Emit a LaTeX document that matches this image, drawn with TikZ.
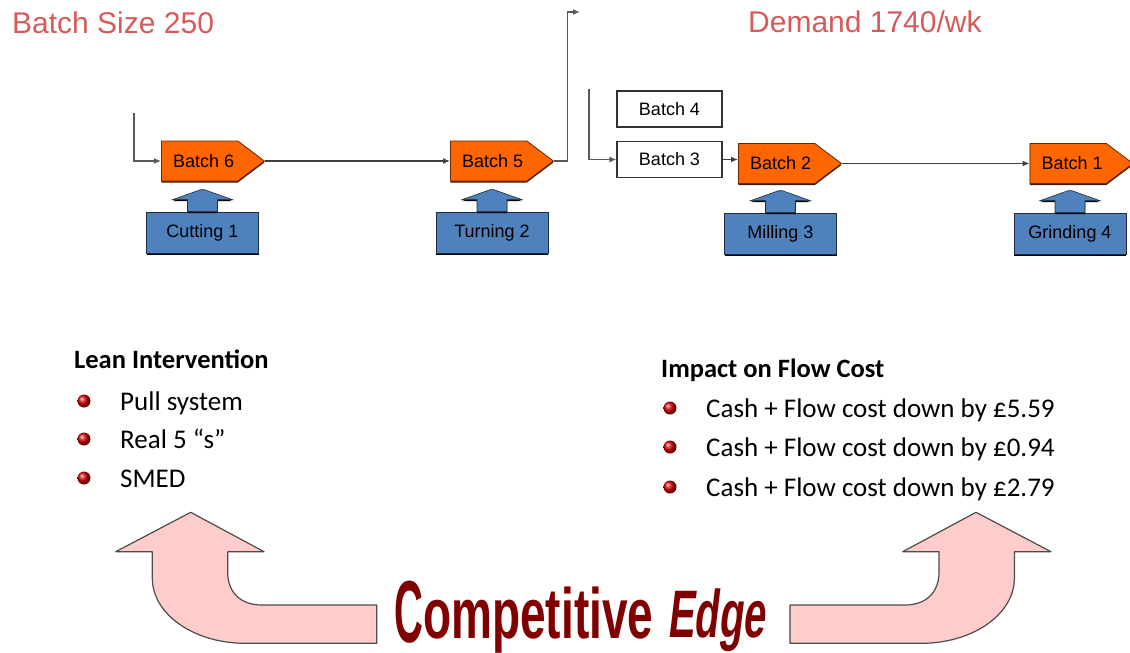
\documentclass[tikz,border=0pt]{standalone}
\usepackage{fontspec}
\setmainfont{Carlito}
\newfontfamily\arialfont{Liberation Sans}
\usetikzlibrary{arrows.meta,shapes.symbols,shadows}

\definecolor{titlered}{RGB}{214,90,90}
\definecolor{batchorange}{RGB}{255,102,0}
\definecolor{procblue}{RGB}{79,129,189}
\definecolor{edgepink}{RGB}{255,204,204}
\definecolor{edgemaroon}{RGB}{128,0,0}

\tikzset{
  batch/.style={signal, signal to=east, signal pointer angle=74,
    fill=batchorange, draw=black!60!batchorange, line width=0.8pt,
    minimum width=103pt, minimum height=40pt, inner sep=0pt, anchor=west,
    font=\arialfont\fontsize{18}{20}\selectfont,
    drop shadow={shadow xshift=0pt, shadow yshift=-1.5pt, fill=black!75!batchorange, opacity=1}},
  queue/.style={draw=black!80, fill=white, line width=1.2pt,
    minimum width=105pt, minimum height=36pt, inner sep=0pt,
    font=\arialfont\fontsize{18}{20}\selectfont},
  proc/.style={fill=procblue, draw=procblue!35!black, line width=0.6pt,
    minimum width=112pt, minimum height=41pt, inner sep=0pt,
    font=\arialfont\fontsize{18}{20}\selectfont,
    drop shadow={shadow xshift=0pt, shadow yshift=-1.5pt, fill=black, opacity=1}},
  procarrow/.style={fill=procblue, draw=procblue!35!black, line width=0.6pt,
    drop shadow={shadow xshift=0pt, shadow yshift=-1.5pt, fill=black, opacity=1}},
  feed/.style={draw=black!65, line width=1.8pt},
  flow/.style={draw=black!75, line width=1.2pt},
  title/.style={anchor=base west, inner sep=0pt, text=titlered,
    font=\arialfont\fontsize{30}{36}\selectfont},
  heading/.style={anchor=base west, inner sep=0pt,
    font=\bfseries\fontsize{26.5}{30}\selectfont},
  item/.style={anchor=base west, inner sep=0pt,
    font=\fontsize{27}{30}\selectfont},
  bullet/.style={circle, minimum size=13pt, inner sep=0pt,
    shading=ball, ball color=red!85!black},
  bendarrow/.style={fill=edgepink, draw=black!70, line width=1.2pt, line join=round},
  edgetext/.style={anchor=base west, inner sep=0pt, text=edgemaroon,
    font=\arialfont\bfseries\fontsize{40}{40}\selectfont}
}

\begin{document}
\begin{tikzpicture}[x=1pt, y=-1pt, >={Latex[length=7pt,width=6pt]}]
  \useasboundingbox (0,0) rectangle (1130,653);

  % Titles
  \node[title] (size) at (12,34) {Batch Size 250};
  \node[title] (demand) at (748,32) {Demand 1740/wk};

  % Batches
  \node[batch] (b6) at (161,161) {\hspace{8pt}Batch 6};
  \node[batch] (b5) at (450,161) {\hspace{8pt}Batch 5};
  \node[batch] (b2) at (738,163.5) {\hspace{8pt}Batch 2};
  \node[batch] (b1) at (1029.5,163.5) {\hspace{8pt}Batch 1};
  \node[queue] (b4) at (669.5,109) {Batch 4};
  \node[queue] (b3) at (669.5,159.5) {Batch 3};

  % Processes
  \node[proc] (cut) at (202.5,232.5) {Cutting 1};
  \node[proc] (turn) at (492,232.5) {Turning 2};
  \node[proc] (mill) at (780.5,233.5) {Milling 3};
  \node[proc] (grind) at (1070,233.5) {Grinding 4};
  \foreach \p in {cut,turn,mill,grind}
    \draw[procarrow] (\p.north) ++(-15,0) -- ++(0,-12) -- ++(-15,0) -- ++(28,-10)
      -- ++(4,0) -- ++(28,10) -- ++(-15,0) -- ++(0,12) -- cycle;

  % Flow
  \coordinate (in6) at (134,113);
  \coordinate (out5) at (580,12);
  \coordinate (in3) at (589,89);
  \draw[feed,->] (in6) |- (b6.west);
  \draw[flow,->] (b6.east) -- (b5.west);
  \draw[feed,->] (b5.east) -- ++(13.5,0) |- (out5);
  \draw[feed,->] (in3) |- (b3.west);
  \draw[flow,->] (b3.east) -- (b3.east -| b2.west);
  \draw[flow,->] (b2.east) -- (b1.west);

  % Lean intervention
  \node[heading] (lean) at (74,368) {Lean Intervention};
  \foreach \t/\y [count=\i] in {Pull system/401, Real 5 “s”/439, SMED/478} {
    \node[bullet] (lb\i) at (84,\y) {};
    \node[item] (lt\i) at (120,\y+9) {\t};
  }

  % Impact on flow cost
  \node[heading] (impact) at (661,377) {Impact on Flow Cost};
  \foreach \t/\y [count=\i] in {5.59/408, 0.94/447, 2.79/487} {
    \node[bullet] (rb\i) at (670,\y) {};
    \node[item] (rt\i) at (706,\y+9) {Cash + Flow cost down by £\t};
  }

  % Bent arrows
  \foreach \s/\m in {0/1, 1166.7/-1}
    \draw[bendarrow, xshift=\s pt, xscale=\m] (190.7,512.3) -- (264,551.7) -- (227.7,551.7)
      -- (227.7,572) .. controls (227.7,592) and (240,605) .. (262,605) -- (376.7,605)
      -- (376.7,643.3) -- (245,643.3) .. controls (195,643.3) and (152.3,615) .. (152.3,578)
      -- (152.3,551.7) -- (115.7,551.7) -- cycle;

  % Competitive edge
  \node[edgetext, yscale=2.2] (ce1) at (394,642) {C};
  \node[edgetext, xscale=1.15, yscale=1.78] (ce2) at (423,638) {ompetitive};
  \node[edgetext, yscale=1.68, xslant=0.2] (ce3) at (667,637) {Edge};
\end{tikzpicture}
\end{document}
